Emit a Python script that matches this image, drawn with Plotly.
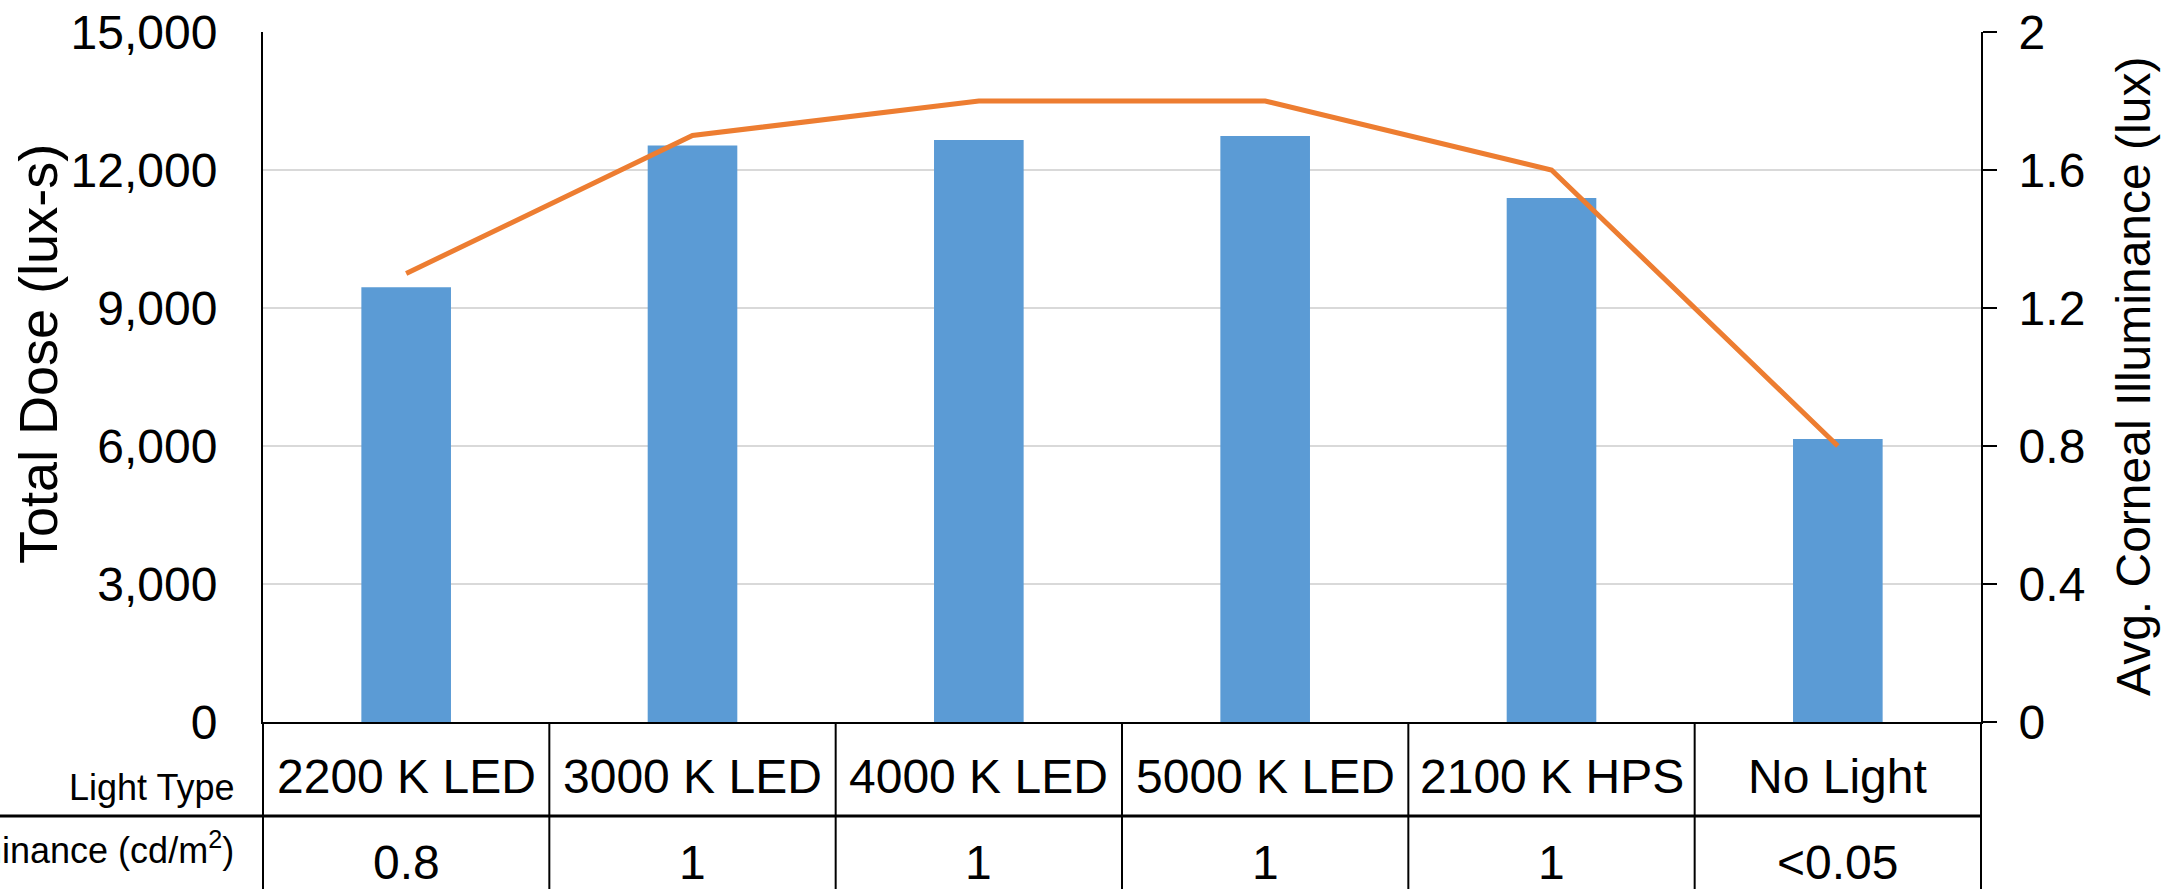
import plotly.graph_objects as go

categories = ["2200 K LED", "3000 K LED", "4000 K LED", "5000 K LED", "2100 K HPS", "No Light"]
total_dose = [9450, 12530, 12650, 12740, 11390, 6150]
corneal_illuminance = [1.3, 1.7, 1.8, 1.8, 1.6, 0.8]
luminance_labels = ["0.8", "1", "1", "1", "1", "&lt;0.05"]
row1_label = "Light Type"
row2_label = "Luminance (cd/m<sup>2</sup>)"

W, H = 2175, 889
L, R, T, B = 263, 1981, 32, 722
PW, PH = R - L, B - T

def px(x):
    return (x - L) / PW

def py(y):
    return (B - y) / PH

FONT = "Liberation Sans, Arial, sans-serif"

fig = go.Figure()
fig.add_trace(go.Bar(x=categories, y=total_dose, marker=dict(color="#5B9BD5", line=dict(width=0)),
                     name="Total Dose", yaxis="y"))
fig.add_trace(go.Scatter(x=categories, y=corneal_illuminance, mode="lines",
                         line=dict(color="#ED7D31", width=5), name="Avg. Corneal Illuminance",
                         yaxis="y2"))

fig.update_layout(
    width=W, height=H,
    margin=dict(l=L, r=W - R, t=T, b=H - B, pad=0, autoexpand=False),
    paper_bgcolor="white", plot_bgcolor="white",
    showlegend=False, bargap=0.687,
    font=dict(family=FONT, color="black"),
    xaxis=dict(type="category", range=[-0.5, 5.5], showticklabels=False, ticks="",
               showline=True, linecolor="black", linewidth=2, showgrid=False, zeroline=False,
               automargin=False),
    yaxis=dict(range=[0, 15000], dtick=3000, tickformat=",d", showgrid=True, gridcolor="#d9d9d9",
               gridwidth=2, showline=True, linecolor="black", linewidth=2, zeroline=False,
               ticks="", ticklabelstandoff=34, automargin=False,
               tickfont=dict(size=48, family=FONT, color="black")),
    yaxis2=dict(range=[0, 2], tickvals=[0, 0.4, 0.8, 1.2, 1.6, 2.0],
                ticktext=["0", "0.4", "0.8", "1.2", "1.6", "2"], overlaying="y", side="right",
                showgrid=False, showline=True, linecolor="black", linewidth=2, zeroline=False,
                ticks="outside", ticklen=14, tickwidth=2, tickcolor="black", ticklabelstandoff=12,
                automargin=False, tickfont=dict(size=48, family=FONT, color="black")),
)

annotations = []
# axis titles
annotations.append(dict(x=px(38), y=py(354), xref="paper", yref="paper", text="Total Dose (lux-s)",
                        textangle=-90, showarrow=False, font=dict(size=54, family=FONT, color="black"),
                        xanchor="center", yanchor="middle"))
annotations.append(dict(x=px(2133), y=py(377), xref="paper", yref="paper",
                        text="Avg. Corneal Illuminance (lux)", textangle=-90, showarrow=False,
                        font=dict(size=48, family=FONT, color="black"),
                        xanchor="center", yanchor="middle"))
# table row labels
annotations.append(dict(x=px(236), y=py(788), xref="paper", yref="paper", text=row1_label,
                        showarrow=False, font=dict(size=36, family=FONT, color="black"),
                        xanchor="right", yanchor="middle"))
annotations.append(dict(x=px(236), y=py(848), xref="paper", yref="paper", text=row2_label,
                        showarrow=False, font=dict(size=36, family=FONT, color="black"),
                        xanchor="right", yanchor="middle"))
for cat, lum in zip(categories, luminance_labels):
    annotations.append(dict(x=cat, y=py(777), xref="x", yref="paper", text=cat, showarrow=False,
                            font=dict(size=48, family=FONT, color="black"),
                            xanchor="center", yanchor="middle"))
    annotations.append(dict(x=cat, y=py(862), xref="x", yref="paper", text=lum, showarrow=False,
                            font=dict(size=48, family=FONT, color="black"),
                            xanchor="center", yanchor="middle"))
fig.update_layout(annotations=annotations)

shapes = []
line_style = dict(color="black", width=2)
# horizontal separator between rows
shapes.append(dict(type="line", xref="paper", yref="paper", x0=px(0), x1=1, y0=py(816), y1=py(816),
                   line=dict(color="black", width=3)))
# vertical column borders
n = len(categories)
for k in range(n + 1):
    shapes.append(dict(type="line", xref="paper", yref="paper", x0=k / n, x1=k / n,
                       y0=0, y1=py(H + 5), line=line_style))
fig.update_layout(shapes=shapes)

fig.write_html("out.html")
